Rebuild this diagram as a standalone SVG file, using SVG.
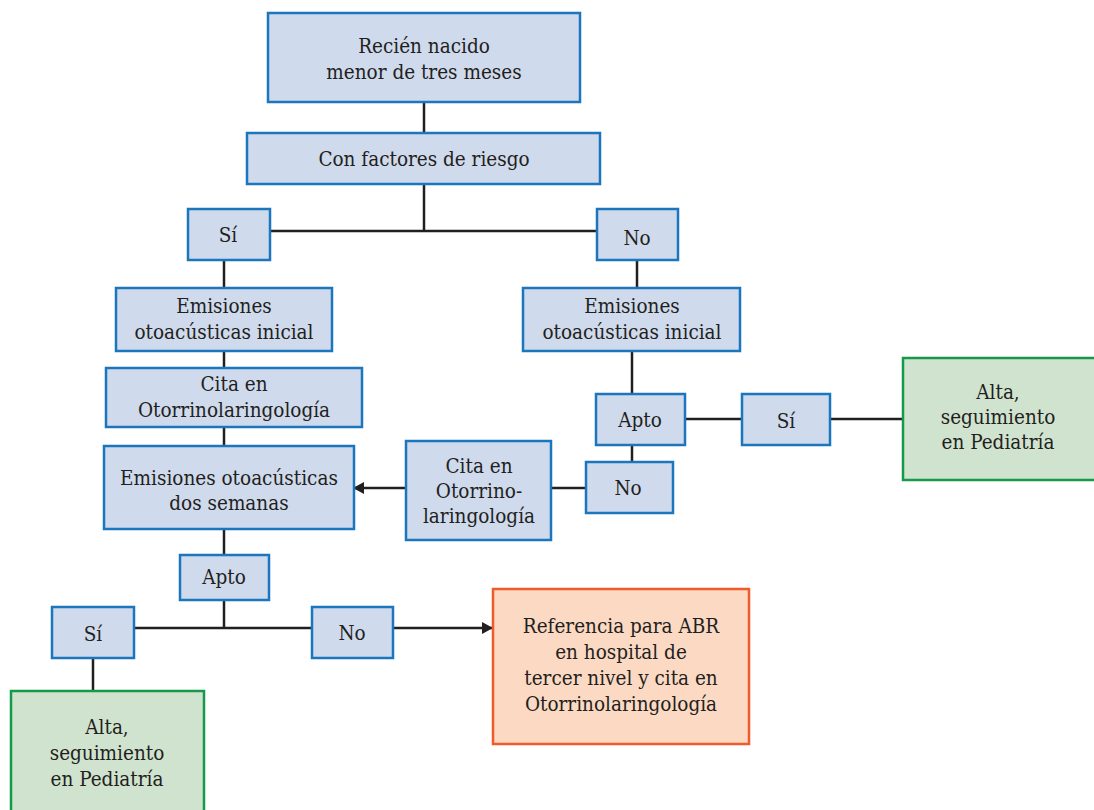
<svg xmlns="http://www.w3.org/2000/svg" width="1094" height="810" viewBox="0 0 1094 810">
<defs>
<style>
.b{fill:#cfdaed;stroke:#1b76bd;stroke-width:2.5}
.g{fill:#d0e3cf;stroke:#17994a;stroke-width:2.5}
.o{fill:#fcd9c3;stroke:#f15a2b;stroke-width:2.5}
text{font-family:"DejaVu Serif Condensed","DejaVu Serif","Liberation Serif",serif;font-stretch:condensed;font-size:20.5px;fill:#231f20;text-anchor:middle}
.c line,.c path{stroke:#231f20;stroke-width:2.5;fill:none}
</style>
<marker id="ar" markerWidth="12" markerHeight="12" refX="10" refY="6" orient="auto" markerUnits="userSpaceOnUse">
<path d="M0,0 L11,6 L0,12 Z" fill="#231f20"/>
</marker>
</defs>
<rect width="1094" height="810" fill="#fff"/>
<g class="c" id="connectors">
<line x1="424" y1="102" x2="424" y2="133"/>
<line x1="424" y1="184" x2="424" y2="231"/>
<line x1="270" y1="231" x2="597" y2="231"/>
<line x1="224" y1="260" x2="224" y2="288"/>
<line x1="637" y1="260" x2="637" y2="288"/>
<line x1="224" y1="351" x2="224" y2="368"/>
<line x1="224" y1="427" x2="224" y2="446"/>
<line x1="224" y1="529" x2="224" y2="555"/>
<line x1="224" y1="600" x2="224" y2="628"/>
<line x1="134" y1="628" x2="312" y2="628"/>
<line x1="393" y1="628" x2="492" y2="628" marker-end="url(#ar)"/>
<line x1="93" y1="658" x2="93" y2="691"/>
<line x1="632" y1="351" x2="632" y2="394"/>
<line x1="685" y1="419" x2="742" y2="419"/>
<line x1="830" y1="419" x2="903" y2="419"/>
<line x1="632" y1="445" x2="632" y2="462"/>
<line x1="586" y1="488" x2="551" y2="488"/>
<line x1="406" y1="488" x2="354" y2="488" marker-end="url(#ar)"/>
</g>
<g id="n1"><rect class="b" x="268" y="13" width="312" height="89"/><text x="424" y="53">Recién nacido</text><text x="424" y="79">menor de tres meses</text></g>
<g id="n2"><rect class="b" x="247" y="133" width="353" height="51"/><text x="424" y="166">Con factores de riesgo</text></g>
<g id="n3"><rect class="b" x="188" y="209" width="82" height="51"/><text x="228" y="242">Sí</text></g>
<g id="n4"><rect class="b" x="597" y="209" width="81" height="51"/><text x="637" y="245">No</text></g>
<g id="n5"><rect class="b" x="116" y="288" width="216" height="63"/><text x="224" y="313">Emisiones</text><text x="224" y="339">otoacústicas inicial</text></g>
<g id="n6"><rect class="b" x="523" y="288" width="217" height="63"/><text x="632" y="313">Emisiones</text><text x="632" y="339">otoacústicas inicial</text></g>
<g id="n7"><rect class="b" x="106" y="368" width="256" height="59"/><text x="234" y="391">Cita en</text><text x="234" y="417">Otorrinolaringología</text></g>
<g id="n8"><rect class="b" x="104" y="446" width="250" height="83"/><text x="229" y="485">Emisiones otoacústicas</text><text x="229" y="510">dos semanas</text></g>
<g id="n9"><rect class="b" x="180" y="555" width="89" height="45"/><text x="224" y="584">Apto</text></g>
<g id="n10"><rect class="b" x="52" y="607" width="82" height="51"/><text x="93" y="641">Sí</text></g>
<g id="n11"><rect class="b" x="312" y="607" width="81" height="51"/><text x="352" y="640">No</text></g>
<g id="n12"><rect class="o" x="493" y="589" width="256" height="155"/><text x="621" y="633">Referencia para ABR</text><text x="621" y="659">en hospital de</text><text x="621" y="685">tercer nivel y cita en</text><text x="621" y="711">Otorrinolaringología</text></g>
<g id="n13"><rect class="g" x="11" y="691" width="193" height="125"/><text x="107" y="734">Alta,</text><text x="107" y="760">seguimiento</text><text x="107" y="786">en Pediatría</text></g>
<g id="n14"><rect class="b" x="596" y="394" width="89" height="51"/><text x="640" y="427">Apto</text></g>
<g id="n15"><rect class="b" x="742" y="394" width="88" height="51"/><text x="786" y="428">Sí</text></g>
<g id="n16"><rect class="g" x="903" y="358" width="195" height="122"/><text x="998" y="399">Alta,</text><text x="998" y="424">seguimiento</text><text x="998" y="449">en Pediatría</text></g>
<g id="n17"><rect class="b" x="586" y="462" width="87" height="51"/><text x="628" y="495">No</text></g>
<g id="n18"><rect class="b" x="406" y="441" width="145" height="99"/><text x="479" y="473">Cita en</text><text x="479" y="498">Otorrino-</text><text x="479" y="523">laringología</text></g>
</svg>
